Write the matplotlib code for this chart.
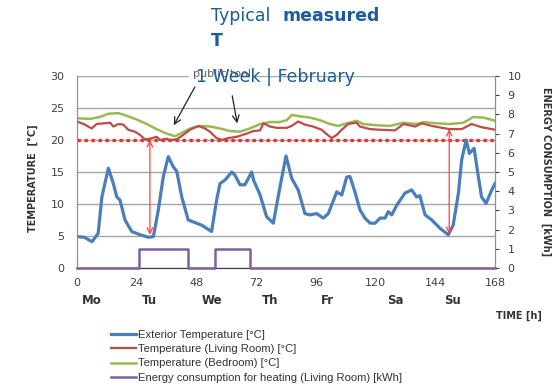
import matplotlib
matplotlib.use("Agg")
import matplotlib.pyplot as plt
from matplotlib.transforms import blended_transform_factory

# ---------------- data ----------------
ext_hours = [0, 3, 6, 8.5, 10, 12.6, 14.6, 16, 17.3, 19.3, 22, 25.3, 28.7, 30.7, 32.7, 34.7,
             36.7, 38.7, 40.1, 42.1, 44.7, 47.4, 50.1, 54.1, 56.1, 57.5, 59.5, 62.2, 63.5,
             65.5, 67.5, 70.2, 71, 73.6, 76.2, 78.9, 81.6, 84, 86.3, 88.9, 91.6, 93.6, 96.3,
             99, 101, 104.4, 106.4, 108.4, 109.7, 111.7, 113.7, 115.7, 117.8, 119.8, 121.8,
             123.8, 125.1, 126.5, 128.5, 131.8, 134.5, 136.5, 137.8, 139.9, 142.6, 145.9,
             149.2, 151.2, 153.3, 154.6, 156.4, 157.7, 159.6, 161.3, 162.6, 164.4, 166.7, 168]
ext_temp = [4.9, 4.8, 4.1, 5.4, 11.1, 15.6, 13.2, 11.1, 10.6, 7.5, 5.7, 5.2, 4.8, 4.9, 9.1, 14.3,
            17.4, 15.8, 15.1, 11.1, 7.5, 7.1, 6.7, 5.7, 10.6, 13.2, 13.75, 15, 14.5,
            13, 13, 15, 13.7, 11.4, 8, 7, 12.7, 17.5, 14, 12.2, 8.5, 8.3, 8.5,
            7.8, 8.5, 11.9, 11.4, 14.2, 14.3, 11.9, 9.1, 7.8, 7, 7, 7.8,
            7.8, 8.8, 8.3, 9.8, 11.7, 12.2, 11.1, 11.3, 8.3, 7.5, 6.2,
            5.2, 6.7, 11.7, 16.9, 20, 17.9, 18.7, 14.3, 11.1, 10.1, 12.2, 13.2]

living_hours = [0, 3.2, 5.9, 7.9, 10.6, 13.3, 14.6, 16.7, 18.6, 20.6, 23.3, 25.3, 27.3, 29.3,
                32, 33.4, 36, 37.4, 40.1, 42.7, 45.4, 48.8, 51.4, 53.4, 56.1, 58.2, 60.8, 64.2,
                68.2, 70.9, 73.6, 74.9, 77.6, 80.3, 84.3, 86.3, 88.9, 91.6, 94.9, 98.3, 101,
                102.4, 104.4, 106.4, 109, 112.4, 113.7, 117.8, 121.8, 127.8, 131.2, 135.9,
                138.5, 142.6, 146.6, 149.9, 154.6, 158.6, 162.6, 166.7, 168]
living_temp = [22.9, 22.4, 21.8, 22.5, 22.6, 22.7, 22.1, 22.5, 22.4, 21.6, 21.3, 20.8, 20.1, 20.2,
               20.5, 20.0, 20.2, 20.0, 20.1, 20.8, 21.6, 22.2, 21.8, 21.3, 20.3, 20.0, 20.3, 20.5,
               21.0, 21.4, 21.5, 22.6, 22.1, 21.9, 21.9, 22.2, 22.9, 22.4, 22.1, 21.6, 20.7,
               20.3, 20.8, 21.6, 22.5, 22.7, 22.1, 21.7, 21.6, 21.5, 22.5, 22.1,
               22.6, 22.2, 21.9, 21.7, 21.7, 22.5, 22.0, 21.7, 21.6]

bed_hours = [0, 5.2, 9.2, 12.6, 16.7, 20.6, 24, 28, 32, 36, 39.4, 42.1, 45.4, 49.5, 53.5,
             57.5, 61.5, 65.5, 69.5, 73.6, 77.6, 81.6, 84.3, 86.3, 89.6, 93.6, 97.6, 101.7,
             105, 108.4, 112.4, 115, 120.5, 125.8, 131.2, 136.5, 139.2, 144.6, 149.9, 155.3,
             159.3, 163.3, 167.3, 168]
bed_temp = [23.4, 23.3, 23.6, 24.1, 24.2, 23.7, 23.2, 22.5, 21.7, 21.0, 20.6, 21.1, 21.8, 22.2,
            22.1, 21.8, 21.4, 21.3, 21.8, 22.5, 22.8, 22.8, 23.1, 23.9, 23.7, 23.5, 23.1, 22.5,
            22.2, 22.6, 23.0, 22.5, 22.3, 22.2, 22.7, 22.5, 22.8, 22.6, 22.5, 22.7,
            23.6, 23.5, 23.1, 23.0]

energy_hours = [0, 25, 25, 44.7, 44.7, 55.5, 55.5, 69.5, 69.5, 168]
energy_kwh = [0, 0, 1, 1, 0, 0, 1, 1, 0, 0]

setpoint = 20
gap_hours = [29.3, 149.6]
gap_top = [20.0, 21.7]
gap_bottom = [5.2, 5.3]

x_ticks = [0, 24, 48, 72, 96, 120, 144, 168]
days = ["Mo", "Tu", "We", "Th", "Fr", "Sa", "Su"]
day_pos = [6, 29.3, 54.2, 77.7, 100.5, 127.8, 151]

labels = ["Exterior Temperature [°C]", "Temperature (Living Room) [°C]",
          "Temperature (Bedroom) [°C]", "Energy consumption for heating (Living Room) [kWh]"]

# ---------------- figure ----------------
W, H = 559, 390
fig = plt.figure(figsize=(W / 100, H / 100), dpi=100)
fig.patch.set_facecolor("white")
ax = fig.add_axes([77 / W, 1 - 268 / H, (495 - 77) / W, (268 - 76) / H])
ax2 = ax.twinx()

txt = "#404040"
grid_c = "#a6a6a6"

ax.set_xlim(0, 168)
ax.set_ylim(0, 30)
ax2.set_ylim(0, 10)

ax.set_yticks(range(0, 31, 5))
ax.set_xticks(x_ticks)
ax.yaxis.grid(True, color=grid_c, lw=1.0)
ax.set_axisbelow(True)
ax.tick_params(axis="both", length=0, labelsize=8, colors=txt, pad=7)
ax.tick_params(axis="y", pad=9)
ax2.set_yticks(range(0, 11))
ax2.tick_params(axis="y", length=3, direction="out", labelsize=8, colors=txt, pad=6)

for s in ["top"]:
    ax.spines[s].set_visible(False)
    ax2.spines[s].set_visible(False)
for a in (ax, ax2):
    a.spines["left"].set_color("#909090")
    a.spines["right"].set_color("#909090")
    a.spines["bottom"].set_color("#404040")

l1, = ax.plot(ext_hours, ext_temp, color="#4a7ebb", lw=2.3, zorder=4)
l2, = ax.plot(living_hours, living_temp, color="#be4b48", lw=1.6, zorder=4)
l3, = ax.plot(bed_hours, bed_temp, color="#98b954", lw=1.8, zorder=3)
ax.axhline(setpoint, color="#e8302c", lw=2.4, ls=(0, (1, 1.1)), zorder=3)
l4, = ax2.plot(energy_hours, energy_kwh, color="#7d60a0", lw=1.8, zorder=5, clip_on=False)

for h, t, b in zip(gap_hours, gap_top, gap_bottom):
    ax.annotate("", xy=(h, b), xytext=(h, t),
                arrowprops=dict(arrowstyle="<->", color="#ff4040", lw=0.9,
                                mutation_scale=10, shrinkA=0, shrinkB=0), zorder=6)

# public room annotation
ax.annotate("", xy=(38.9, 22.3), xytext=(47.4, 28.3),
            arrowprops=dict(arrowstyle="->", color="#222222", lw=0.9, mutation_scale=12,
                            shrinkA=0, shrinkB=0), annotation_clip=False)
ax.annotate("", xy=(64.4, 22.6), xytext=(62.4, 26.9),
            arrowprops=dict(arrowstyle="->", color="#222222", lw=0.9, mutation_scale=12,
                            shrinkA=0, shrinkB=0), annotation_clip=False)
fig.text(222 / W, 1 - 74 / H, "public tool", fontsize=8, color="#606060",
         ha="center", va="center",
         bbox=dict(facecolor="white", edgecolor="none", pad=3))

# day labels
tr = blended_transform_factory(ax.transData, fig.transFigure)
for d, p in zip(days, day_pos):
    fig.text(p, 1 - 301 / H, d, transform=tr, ha="center", va="center",
             fontsize=8.5, fontweight="bold", color="#333333")

fig.text(519 / W, 1 - 316 / H, "TIME [h]", ha="center", va="center",
         fontsize=7, fontweight="bold", color="#333333")
fig.text(33 / W, 1 - 178 / H, "TEMPERATURE  [°C]", ha="center", va="center", rotation=90,
         fontsize=7, fontweight="bold", color="#333333")
fig.text(546 / W, 1 - 172 / H, "ENERGY CONSUMPTION  [kWh]", ha="center", va="center",
         rotation=270, fontsize=7, fontweight="bold", color="#333333")

fig.legend([l1, l2, l3, l4], labels, loc="upper left",
           bbox_to_anchor=(106 / W, 1 - 325 / H), borderaxespad=0, frameon=False,
           prop={"family": "Liberation Sans", "size": 8.1}, labelcolor="#333333",
           handlelength=2.3, handletextpad=0.15, labelspacing=0.4)

# overlaid title
blue = "#1c5c9a"
fig.text(211 / W, 1 - 16 / H, "Typical", fontsize=12.5, color=blue, ha="left", va="center")
fig.text(282 / W, 1 - 16 / H, "measured", fontsize=12.5, color=blue, ha="left", va="center",
         fontweight="bold")
fig.text(211 / W, 1 - 41 / H, "T", fontsize=12.5, color=blue, ha="left", va="center",
         fontweight="bold")
fig.text(196 / W, 1 - 77 / H, "1 Week | February", fontsize=12.5, color=blue, ha="left",
         va="center")

fig.savefig("out.png", dpi=100, facecolor="white")
